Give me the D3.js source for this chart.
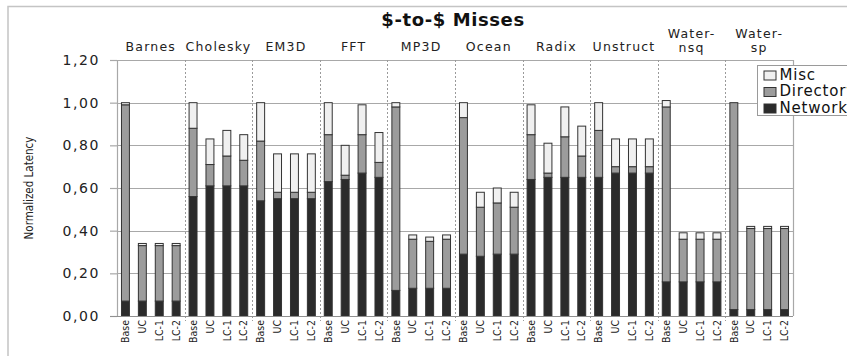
<!DOCTYPE html>
<html>
<head>
<meta charset="utf-8">
<script src="https://cdn.jsdelivr.net/npm/d3@7"></script>
<style>
  body { margin: 0; background: #fff; }
  svg { display: block; }
</style>
</head>
<body>
<div id="chart"></div>
<script>
// Benchmarks, configurations and the three latency components (segment heights)
const benchmarks = ["Barnes", "Cholesky", "EM3D", "FFT", "MP3D", "Ocean", "Radix", "Unstruct", "Water-nsq", "Water-sp"];
const benchmarkLabels = [["Barnes"], ["Cholesky"], ["EM3D"], ["FFT"], ["MP3D"], ["Ocean"], ["Radix"], ["Unstruct"], ["Water-", "nsq"], ["Water-", "sp"]];
const configs = ["Base", "UC", "LC-1", "LC-2"];
const seriesNames = ["Network", "Directory", "Misc"];
const yTicks = [0, 0.2, 0.4, 0.6, 0.8, 1.0, 1.2];

const network = [
  [0.07, 0.07, 0.07, 0.07],
  [0.56, 0.61, 0.61, 0.61],
  [0.54, 0.55, 0.55, 0.55],
  [0.63, 0.64, 0.67, 0.65],
  [0.12, 0.13, 0.13, 0.13],
  [0.29, 0.28, 0.29, 0.29],
  [0.64, 0.65, 0.65, 0.65],
  [0.65, 0.67, 0.67, 0.67],
  [0.16, 0.16, 0.16, 0.16],
  [0.03, 0.03, 0.03, 0.03]
];
const directory = [
  [0.92, 0.26, 0.26, 0.26],
  [0.32, 0.10, 0.14, 0.12],
  [0.28, 0.03, 0.03, 0.03],
  [0.22, 0.02, 0.18, 0.07],
  [0.86, 0.23, 0.22, 0.23],
  [0.64, 0.23, 0.24, 0.22],
  [0.21, 0.02, 0.19, 0.10],
  [0.22, 0.03, 0.03, 0.03],
  [0.82, 0.20, 0.20, 0.20],
  [0.97, 0.38, 0.38, 0.38]
];
const misc = [
  [0.01, 0.01, 0.01, 0.01],
  [0.12, 0.12, 0.12, 0.12],
  [0.18, 0.18, 0.18, 0.18],
  [0.15, 0.14, 0.14, 0.14],
  [0.02, 0.02, 0.02, 0.02],
  [0.07, 0.07, 0.07, 0.07],
  [0.14, 0.14, 0.14, 0.14],
  [0.13, 0.13, 0.13, 0.13],
  [0.03, 0.03, 0.03, 0.03],
  [0.00, 0.01, 0.01, 0.01]
];

//Dimensions
const width = 847;
const height = 356;
const plot = { left: 117, right: 793, top: 60, bottom: 316 };
const colors = { Network: "#2b2b2b", Directory: "#9c9c9c", Misc: "#f0f0f0" };
const narrow = "'Liberation Sans Narrow', 'Arial Narrow', 'DejaVu Sans Condensed', sans-serif";
const wide = "'DejaVu Sans', Verdana, sans-serif";

//Flatten into one row per bar
const rows = benchmarks.flatMap((b, i) => configs.map((c, j) => ({
  key: `${b}|${c}`,
  bench: b,
  config: c,
  Network: network[i][j],
  Directory: directory[i][j],
  Misc: misc[i][j]
})));

const svg = d3.select("#chart")
  .append("svg")
  .attr("width", width)
  .attr("height", height);

//Outer frame of the scanned figure
svg.append("path")
  .attr("d", `M8,${height} V6.5 H${width}`)
  .attr("fill", "none")
  .attr("stroke", "#c4c4c4")
  .attr("stroke-width", 1.5);

//Scales
const x = d3.scaleBand()
  .domain(rows.map(d => d.key))
  .range([plot.left, plot.right])
  .paddingInner(0.53)
  .paddingOuter(0.265);
const xGroup = d3.scaleBand()
  .domain(benchmarks)
  .range([plot.left, plot.right]);
const y = d3.scaleLinear()
  .domain([0, 1.2])
  .range([plot.bottom, plot.top]);

//Gridlines
svg.append("g")
  .selectAll("line")
  .data(yTicks.filter(t => t > 0))
  .join("line")
  .attr("x1", plot.left)
  .attr("x2", plot.right)
  .attr("y1", d => Math.round(y(d)) + 0.5)
  .attr("y2", d => Math.round(y(d)) + 0.5)
  .attr("stroke", "#a8a8a8")
  .attr("stroke-width", 1.2);

//Right border of the plot
svg.append("line")
  .attr("x1", plot.right + 0.5).attr("x2", plot.right + 0.5)
  .attr("y1", plot.top).attr("y2", plot.bottom)
  .attr("stroke", "#a8a8a8")
  .attr("stroke-width", 1.2);

//Dotted separators between benchmarks
svg.append("g")
  .selectAll("line")
  .data(benchmarks.slice(1))
  .join("line")
  .attr("x1", d => Math.round(xGroup(d)) + 0.5)
  .attr("x2", d => Math.round(xGroup(d)) + 0.5)
  .attr("y1", plot.top)
  .attr("y2", plot.bottom + 5)
  .attr("stroke", "#9a9a9a")
  .attr("stroke-dasharray", "2,2");

//Stacked bars
const stack = d3.stack().keys(seriesNames);
const layers = stack(rows);
svg.append("g")
  .selectAll("g")
  .data(layers)
  .join("g")
  .attr("fill", d => colors[d.key])
  .selectAll("rect")
  .data(d => d.filter(s => s[1] - s[0] > 0))
  .join("rect")
  .attr("x", d => x(d.data.key))
  .attr("y", d => y(d[1]))
  .attr("width", x.bandwidth())
  .attr("height", d => y(d[0]) - y(d[1]))
  .attr("stroke", "#333")
  .attr("stroke-width", 1);

//Y axis
const yAxis = svg.append("g")
  .attr("transform", `translate(${plot.left},0)`)
  .call(d3.axisLeft(y)
    .tickValues(yTicks)
    .tickFormat(d => d3.format(".2f")(d).replace(".", ","))
    .tickSize(7)
    .tickPadding(10));
yAxis.select(".domain").attr("stroke", "#a8a8a8").attr("stroke-width", 1.2);
yAxis.selectAll(".tick line").attr("stroke", "#a8a8a8").attr("stroke-width", 1.2);
yAxis.selectAll("text")
  .attr("font-family", wide)
  .attr("font-size", 14)
  .attr("letter-spacing", 1.6)
  .attr("fill", "#222");

//X axis with rotated configuration labels
const xAxis = svg.append("g")
  .attr("transform", `translate(0,${plot.bottom})`)
  .call(d3.axisBottom(x).tickSize(0).tickSizeOuter(0).tickFormat(k => k.split("|")[1]));
xAxis.select(".domain")
  .attr("d", `M${plot.left - 7},0.5H${plot.right}`)
  .attr("stroke", "#909090")
  .attr("stroke-width", 1.2);
xAxis.selectAll("text")
  .attr("transform", "rotate(-90)")
  .attr("text-anchor", "end")
  .attr("x", -4)
  .attr("y", 0)
  .attr("dy", "0.35em")
  .attr("font-family", narrow)
  .attr("font-size", 10.5)
  .attr("fill", "#222");

//Benchmark names above the plot (two-line names as separate texts)
const labelLines = benchmarks.flatMap((b, i) => benchmarkLabels[i].map((t, j) => ({
  bench: b,
  text: t,
  line: j,
  lines: benchmarkLabels[i].length
})));
svg.append("g")
  .selectAll("text")
  .data(labelLines)
  .join("text")
  .attr("x", d => xGroup(d.bench) + xGroup.bandwidth() / 2)
  .attr("y", d => d.lines > 1 ? 37.5 + d.line * 14.5 : 51)
  .attr("text-anchor", "middle")
  .attr("font-family", wide)
  .attr("font-size", 12.5)
  .attr("letter-spacing", 1.2)
  .attr("fill", "#222")
  .text(d => d.text);

//Title
svg.append("text")
  .attr("x", 453)
  .attr("y", 26)
  .attr("text-anchor", "middle")
  .attr("font-family", wide)
  .attr("font-weight", "bold")
  .attr("font-size", 18)
  .attr("letter-spacing", 0.6)
  .attr("fill", "#111")
  .text("$-to-$ Misses");

//Y-axis label
svg.append("text")
  .attr("transform", "rotate(-90)")
  .attr("x", -188)
  .attr("y", 33)
  .attr("text-anchor", "middle")
  .attr("font-family", narrow)
  .attr("font-size", 11.5)
  .attr("fill", "#222")
  .text("Normalized Latency");

//Legend (runs past the right edge, as in the original)
const legend = svg.append("g").attr("transform", "translate(757.5,65.5)");
legend.append("rect")
  .attr("width", 110)
  .attr("height", 50)
  .attr("fill", "#fff")
  .attr("stroke", "#9a9a9a");
const legendItems = legend.selectAll("g.item")
  .data(["Misc", "Directory", "Network"])
  .join("g")
  .attr("class", "item")
  .attr("transform", (d, i) => `translate(0,${i * 16.5})`);
legendItems.append("rect")
  .attr("x", 6.5)
  .attr("y", 5.5)
  .attr("width", 12)
  .attr("height", 9)
  .attr("fill", d => colors[d])
  .attr("stroke", "#333");
legendItems.append("text")
  .attr("x", 22)
  .attr("y", 14)
  .attr("font-family", wide)
  .attr("font-size", 15)
  .attr("letter-spacing", 0.8)
  .attr("fill", "#111")
  .text(d => d);
</script>
</body>
</html>
